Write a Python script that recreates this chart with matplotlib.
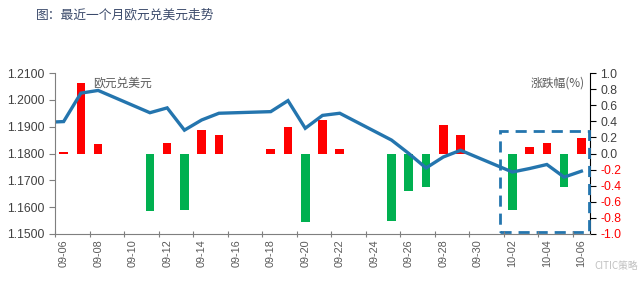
import matplotlib
matplotlib.use("Agg")
import matplotlib.pyplot as plt
import pandas as pd
from matplotlib.patches import Rectangle
from matplotlib.ticker import FixedLocator, FuncFormatter

plt.rcParams['font.family'] = ['Liberation Sans', 'Noto Sans CJK SC', 'DejaVu Sans']

# ------------------------- dados -------------------------
title = "图：最近一个月欧元兑美元走势"
line_label = "欧元兑美元"
bar_label = "涨跌幅(%)"

line_dates = ["09-05", "09-06", "09-07", "09-08", "09-11", "09-12", "09-13", "09-14",
              "09-15", "09-18", "09-19", "09-20", "09-21", "09-22", "09-25", "09-26",
              "09-27", "09-28", "09-29", "10-02", "10-03", "10-04", "10-05", "10-06"]
eurusd = [1.1916, 1.1919, 1.2025, 1.2035, 1.1952, 1.1970, 1.1887, 1.1925,
          1.1950, 1.1956, 1.1997, 1.1894, 1.1942, 1.1950, 1.1850, 1.1800,
          1.1746, 1.1787, 1.1812, 1.1731, 1.1744, 1.1759, 1.1712, 1.1734]

bar_dates = line_dates[1:]
pct_change = [0.02, 0.87, 0.12, -0.71, 0.13, -0.70, 0.29, 0.23,
              0.05, 0.33, -0.85, 0.41, 0.05, -0.84, -0.47, -0.41,
              0.35, 0.23, -0.70, 0.08, 0.13, -0.41, 0.19]

axis_start = "09-06"
axis_end = "10-06"
box_start = "10-02"   # feriado chines destacado
# ---------------------------------------------------------

def to_day(s):
    d = pd.Timestamp("2017-" + s)
    return (d - pd.Timestamp("2017-" + axis_start)).days

x_line = [to_day(d) for d in line_dates]
x_bar = [to_day(d) for d in bar_dates]
n_days = to_day(axis_end) + 1
all_days = pd.date_range("2017-" + axis_start, "2017-" + axis_end)
day_labels = [d.strftime("%m-%d") for d in all_days]

fig = plt.figure(figsize=(6.4, 2.82), dpi=100)
ax = fig.add_axes([55 / 640, 1 - 234 / 282, 535 / 640, 161 / 282])
ax2 = ax.twinx()

# linha por cima das barras
ax.set_zorder(ax2.get_zorder() + 1)
ax.patch.set_visible(False)

colors = ["#FF0000" if v >= 0 else "#00B050" for v in pct_change]
ax2.bar(x_bar, pct_change, width=0.5, color=colors)

ax.plot(x_line, eurusd, color="#2475AE", lw=2.4, solid_joinstyle="miter")

ax.set_xlim(-0.5, n_days - 0.5)
ax.set_ylim(1.15, 1.21)
ax2.set_ylim(-1.0, 1.0)

ax.set_yticks([1.15 + 0.01 * i for i in range(7)])
ax.yaxis.set_major_formatter(FuncFormatter(lambda v, p: f"{v:.4f}"))
ax2.set_yticks([-1.0 + 0.2 * i for i in range(11)])
ax2.yaxis.set_major_formatter(FuncFormatter(lambda v, p: f"{v:.1f}" if abs(v) > 1e-9 else "0.0"))

# ticks nas fronteiras, rotulos no centro
ax.xaxis.set_major_locator(FixedLocator([i - 0.5 for i in range(0, n_days + 1, 2)]))
ax.xaxis.set_minor_locator(FixedLocator(list(range(0, n_days, 2))))
ax.set_xticklabels([])
ax.set_xticklabels([day_labels[i] for i in range(0, n_days, 2)], minor=True,
                   rotation=90, fontsize=7.8, color="#595959")
ax.tick_params(axis="x", which="minor", length=0, pad=4)
ax.tick_params(axis="x", which="major", length=4, direction="inout", color="#7f7f7f")

ax.tick_params(axis="y", labelsize=8.8, length=4, colors="#7f7f7f", labelcolor="#404040")
ax2.tick_params(axis="y", labelsize=8.8, length=4, color="black")
for lab, v in zip(ax2.get_yticklabels(), ax2.get_yticks()):
    lab.set_color("#FF0000" if v < -1e-9 else "#404040")

for a in (ax, ax2):
    a.spines["top"].set_visible(False)
ax.spines["left"].set_color("#7f7f7f")
ax.spines["bottom"].set_color("#7f7f7f")
ax.spines["right"].set_visible(False)
ax2.spines["left"].set_visible(False)
ax2.spines["bottom"].set_visible(False)
ax2.spines["right"].set_color("black")

# caixa tracejada
bx = to_day(box_start) - 0.7
rect = Rectangle((bx, -0.98), n_days - 0.58 - bx, 1.26, fill=False,
                 edgecolor="#2475AE", lw=2.0, linestyle=(0, (4, 2.5)), clip_on=False, zorder=5)
ax2.add_patch(rect)

fig.text(36 / 640, 1 - 15 / 282, title, fontsize=9.2, color="#3B4A6B",
         family=["Noto Sans CJK SC"], va="center")
fig.text(93 / 640, 1 - 83 / 282, line_label, fontsize=8.5, color="#595959",
         family=["Noto Sans CJK SC"], va="center")
fig.text(585 / 640, 1 - 83 / 282, bar_label, fontsize=8.5, color="#595959",
         family=["Noto Sans CJK SC", "DejaVu Sans"], va="center", ha="right")
# marca d'agua, deslocada para nao cobrir os rotulos
fig.text(638 / 640, 1 - 266 / 282, "CITIC策略", fontsize=7, color="#b0b0b0",
         family=["Noto Sans CJK SC"], va="center", ha="right", alpha=0.8)

fig.savefig("out.png", dpi=100)
